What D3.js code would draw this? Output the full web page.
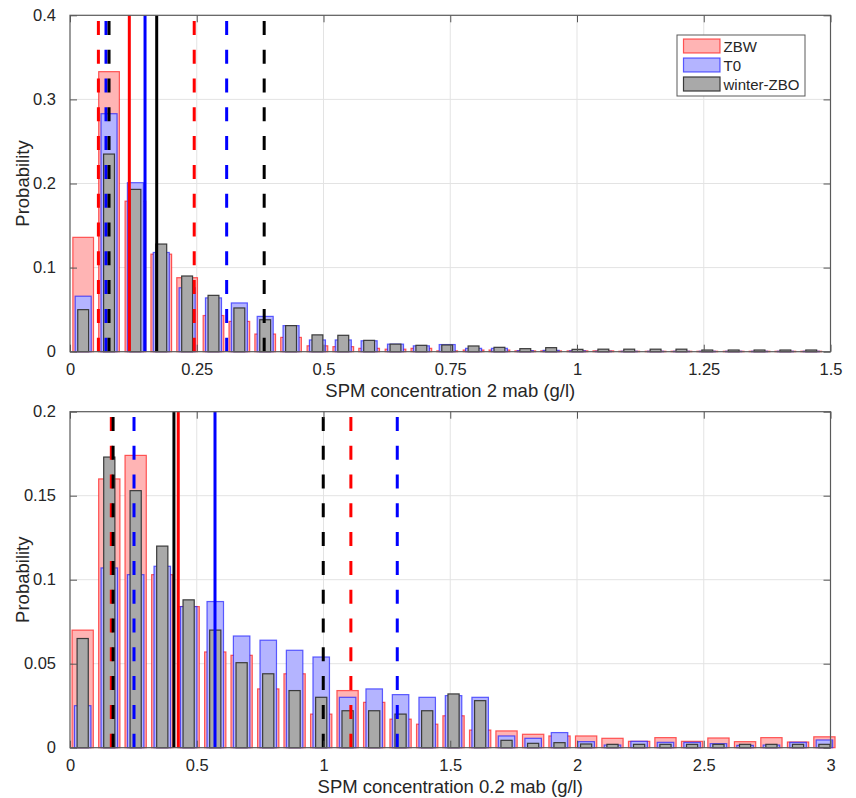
<!DOCTYPE html>
<html>
<head>
<meta charset="utf-8">
<script src="https://cdn.jsdelivr.net/npm/d3@7"></script>
<style>
  body { margin: 0; background: #fff; }
  text { font-family: "Liberation Sans", Arial, Helvetica, sans-serif; fill: #262626; }
</style>
</head>
<body>
<svg id="chart" width="856" height="798"></svg>
<script>
// ---------- data ----------
const seriesNames = ["ZBW", "T0", "winter-ZBO"];

// SPM at 2 m above bed: histogram bin centres (g/l) and probabilities
const binCenters2mab = [0.026, 0.077, 0.129, 0.180, 0.231, 0.283, 0.334, 0.385, 0.436, 0.488,
  0.539, 0.590, 0.642, 0.693, 0.744, 0.796, 0.847, 0.898, 0.949, 1.001,
  1.052, 1.103, 1.155, 1.206, 1.257, 1.309, 1.360, 1.411, 1.462];
const zbw2mab = [0.136, 0.333, 0.179, 0.116, 0.088, 0.043, 0.036, 0.021, 0.017, 0.007,
  0.006, 0.004, 0.003, 0.004, 0.001, 0.002, 0.002, 0.001, 0.001, 0.001,
  0.001, 0.0005, 0.0005, 0.0005, 0.0005, 0.0005, 0.0005, 0.0005, 0.0005];
const t02mab = [0.066, 0.283, 0.201, 0.118, 0.076, 0.064, 0.058, 0.042, 0.031, 0.014,
  0.014, 0.013, 0.009, 0.007, 0.0085, 0.004, 0.004, 0.0012, 0.0016, 0.001,
  0.0005, 0.0005, 0.0005, 0.0005, 0.0005, 0.0005, 0.0005, 0.0005, 0.0005];
const zbo2mab = [0.050, 0.235, 0.193, 0.128, 0.090, 0.067, 0.052, 0.038, 0.031, 0.020,
  0.0195, 0.0135, 0.009, 0.0076, 0.008, 0.0068, 0.0052, 0.0036, 0.0048, 0.0028,
  0.003, 0.003, 0.003, 0.003, 0.002, 0.002, 0.002, 0.002, 0.002];
const xTicks2mab = [0, 0.25, 0.5, 0.75, 1, 1.25, 1.5];
const yTicks2mab = [0, 0.1, 0.2, 0.3, 0.4];
// medians (solid) and lower / upper percentiles (dashed), order: ZBW, T0, winter-ZBO
const median2mab = [0.117, 0.148, 0.171];
const lowPct2mab = [0.056, 0.071, 0.077];
const highPct2mab = [0.245, 0.309, 0.383];

// SPM at 0.2 m above bed
const binCenters02mab = [0.050, 0.155, 0.259, 0.364, 0.468, 0.573, 0.677, 0.782, 0.886, 0.991,
  1.095, 1.200, 1.304, 1.409, 1.513, 1.618, 1.722, 1.827, 1.931, 2.036,
  2.140, 2.245, 2.349, 2.454, 2.558, 2.663, 2.767, 2.872, 2.976];
const zbw02mab = [0.070, 0.160, 0.174, 0.103, 0.084, 0.057, 0.055, 0.035, 0.044, 0.020,
  0.034, 0.027, 0.017, 0.014, 0.019, 0.0105, 0.010, 0.008, 0.007, 0.007,
  0.0056, 0.0038, 0.006, 0.0038, 0.0058, 0.0036, 0.006, 0.0034, 0.0065];
const t002mab = [0.025, 0.107, 0.103, 0.108, 0.084, 0.087, 0.0665, 0.064, 0.058, 0.054,
  0.030, 0.035, 0.0316, 0.030, 0.031, 0.030, 0.007, 0.0056, 0.009, 0.0036,
  0.0016, 0.0038, 0.0032, 0.0032, 0.0024, 0.0014, 0.0016, 0.0032, 0.0046];
const zbo02mab = [0.065, 0.173, 0.153, 0.120, 0.088, 0.070, 0.0506, 0.044, 0.034, 0.030,
  0.022, 0.022, 0.020, 0.022, 0.032, 0.028, 0.0044, 0.0026, 0.003, 0.0022,
  0.002, 0.002, 0.002, 0.002, 0.002, 0.002, 0.002, 0.002, 0.002];
const xTicks02mab = [0, 0.5, 1, 1.5, 2, 2.5, 3];
const yTicks02mab = [0, 0.05, 0.1, 0.15, 0.2];
const median02mab = [0.427, 0.572, 0.410];
const lowPct02mab = [0.163, 0.2525, 0.170];
const highPct02mab = [1.108, 1.291, 0.999];

// ---------- styling ----------
const seriesStyle = [
  { fill: "#ffb4b4", stroke: "rgba(255,0,0,0.62)", strokeWidth: 1.2, widthFrac: 0.80, line: "#ff0000" },
  { fill: "#b4b4ff", stroke: "rgba(0,0,255,0.6)", strokeWidth: 1.2, widthFrac: 0.62, line: "#0000ff" },
  { fill: "#a9a9a9", stroke: "#3a3a3a", strokeWidth: 1.2, widthFrac: 0.42, line: "#000000" }
];

const svg = d3.select("#chart");

function drawPanel(cfg) {
  const x = d3.scaleLinear().domain(cfg.xDomain).range([cfg.left, cfg.right]);
  const y = d3.scaleLinear().domain(cfg.yDomain).range([cfg.bottom, cfg.top]);
  const g = svg.append("g");

  // grid
  g.append("g").selectAll("line").data(cfg.xTicks.slice(1, -1)).join("line")
    .attr("x1", d => x(d)).attr("x2", d => x(d))
    .attr("y1", cfg.top).attr("y2", cfg.bottom)
    .attr("stroke", "#e3e3e3").attr("stroke-width", 1);
  g.append("g").selectAll("line").data(cfg.yTicks.slice(1, -1)).join("line")
    .attr("x1", cfg.left).attr("x2", cfg.right)
    .attr("y1", d => y(d)).attr("y2", d => y(d))
    .attr("stroke", "#e3e3e3").attr("stroke-width", 1);

  // histogram bars: ZBW (widest) underneath, winter-ZBO (narrowest) on top
  const binPx = x(cfg.centers[1]) - x(cfg.centers[0]);
  cfg.series.forEach((vals, si) => {
    const st = seriesStyle[si];
    const w = binPx * st.widthFrac;
    g.append("g").selectAll("rect").data(vals).join("rect")
      .attr("x", (d, i) => x(cfg.centers[i]) - w / 2)
      .attr("width", w)
      .attr("y", d => y(d))
      .attr("height", d => y(0) - y(d))
      .attr("fill", st.fill)
      .attr("stroke", st.stroke)
      .attr("stroke-width", st.strokeWidth);
  });

  // statistic lines
  const lineG = g.append("g");
  [0, 1, 2].forEach(si => {
    const col = seriesStyle[si].line;
    [cfg.lowPct[si], cfg.highPct[si]].forEach(v => {
      lineG.append("line")
        .attr("x1", x(v)).attr("x2", x(v))
        .attr("y1", y(0)).attr("y2", y(cfg.yDomain[1]))
        .attr("stroke", col).attr("stroke-width", 3)
        .attr("stroke-dasharray", "14,14.8");
    });
  });
  [0, 1, 2].forEach(si => {
    lineG.append("line")
      .attr("x1", x(cfg.median[si])).attr("x2", x(cfg.median[si]))
      .attr("y1", y(0)).attr("y2", y(cfg.yDomain[1]))
      .attr("stroke", seriesStyle[si].line).attr("stroke-width", 3);
  });

  // axes (ticks inside, mirrored on the box)
  const tickLen = 7;
  const fmt = d => String(d);
  const axB = g.append("g").attr("transform", `translate(0,${cfg.bottom})`)
    .call(d3.axisBottom(x).tickValues(cfg.xTicks).tickFormat(fmt).tickSizeInner(-tickLen).tickSizeOuter(0).tickPadding(12));
  const axT = g.append("g").attr("transform", `translate(0,${cfg.top})`)
    .call(d3.axisTop(x).tickValues(cfg.xTicks).tickFormat("").tickSizeInner(-tickLen).tickSizeOuter(0));
  const axL = g.append("g").attr("transform", `translate(${cfg.left},0)`)
    .call(d3.axisLeft(y).tickValues(cfg.yTicks).tickFormat(fmt).tickSizeInner(-tickLen).tickSizeOuter(0).tickPadding(14));
  const axR = g.append("g").attr("transform", `translate(${cfg.right},0)`)
    .call(d3.axisRight(y).tickValues(cfg.yTicks).tickFormat("").tickSizeInner(-tickLen).tickSizeOuter(0));
  [axB, axT, axL, axR].forEach(a => {
    a.select(".domain").remove();
    a.selectAll(".tick line").attr("stroke", "#555").attr("stroke-width", 1);
    a.selectAll(".tick text").style("font-size", "16.5px").attr("fill", "#262626");
  });
  axB.selectAll(".tick text").attr("dy", "0.71em");

  // box
  g.append("rect")
    .attr("x", cfg.left).attr("y", cfg.top)
    .attr("width", cfg.right - cfg.left).attr("height", cfg.bottom - cfg.top)
    .attr("fill", "none").attr("stroke", "#5a5a5a").attr("stroke-width", 1.2);

  // labels
  g.append("text")
    .attr("x", (cfg.left + cfg.right) / 2).attr("y", cfg.bottom + 45)
    .attr("text-anchor", "middle").style("font-size", "18.5px")
    .text(cfg.xLabel);
  g.append("text")
    .attr("transform", `translate(22,${(cfg.top + cfg.bottom) / 2}) rotate(-90)`)
    .attr("text-anchor", "middle").attr("dominant-baseline", "central")
    .style("font-size", "18.5px")
    .text("Probability");

  return g;
}

drawPanel({
  left: 70, right: 830.5, top: 15.3, bottom: 351.7,
  xDomain: [0, 1.5], yDomain: [0, 0.4],
  xTicks: xTicks2mab, yTicks: yTicks2mab,
  centers: binCenters2mab, series: [zbw2mab, t02mab, zbo2mab],
  median: median2mab, lowPct: lowPct2mab, highPct: highPct2mab,
  xLabel: "SPM concentration 2 mab (g/l)"
});

drawPanel({
  left: 70, right: 830.5, top: 411.7, bottom: 747.7,
  xDomain: [0, 3], yDomain: [0, 0.2],
  xTicks: xTicks02mab, yTicks: yTicks02mab,
  centers: binCenters02mab, series: [zbw02mab, t002mab, zbo02mab],
  median: median02mab, lowPct: lowPct02mab, highPct: highPct02mab,
  xLabel: "SPM concentration 0.2 mab (g/l)"
});

// legend (upper panel)
const leg = svg.append("g").attr("transform", "translate(677,35)");
leg.append("rect").attr("width", 128).attr("height", 61)
  .attr("fill", "#fff").attr("stroke", "#5a5a5a").attr("stroke-width", 1);
seriesNames.forEach((name, i) => {
  const st = seriesStyle[i];
  const cy = 11 + i * 19;
  leg.append("rect").attr("x", 6.5).attr("y", cy - 7).attr("width", 36.5).attr("height", 14)
    .attr("fill", st.fill).attr("stroke", st.stroke).attr("stroke-width", st.strokeWidth);
  leg.append("text").attr("x", 46.5).attr("y", cy)
    .attr("dominant-baseline", "central").style("font-size", "15px")
    .text(name);
});
</script>
</body>
</html>
